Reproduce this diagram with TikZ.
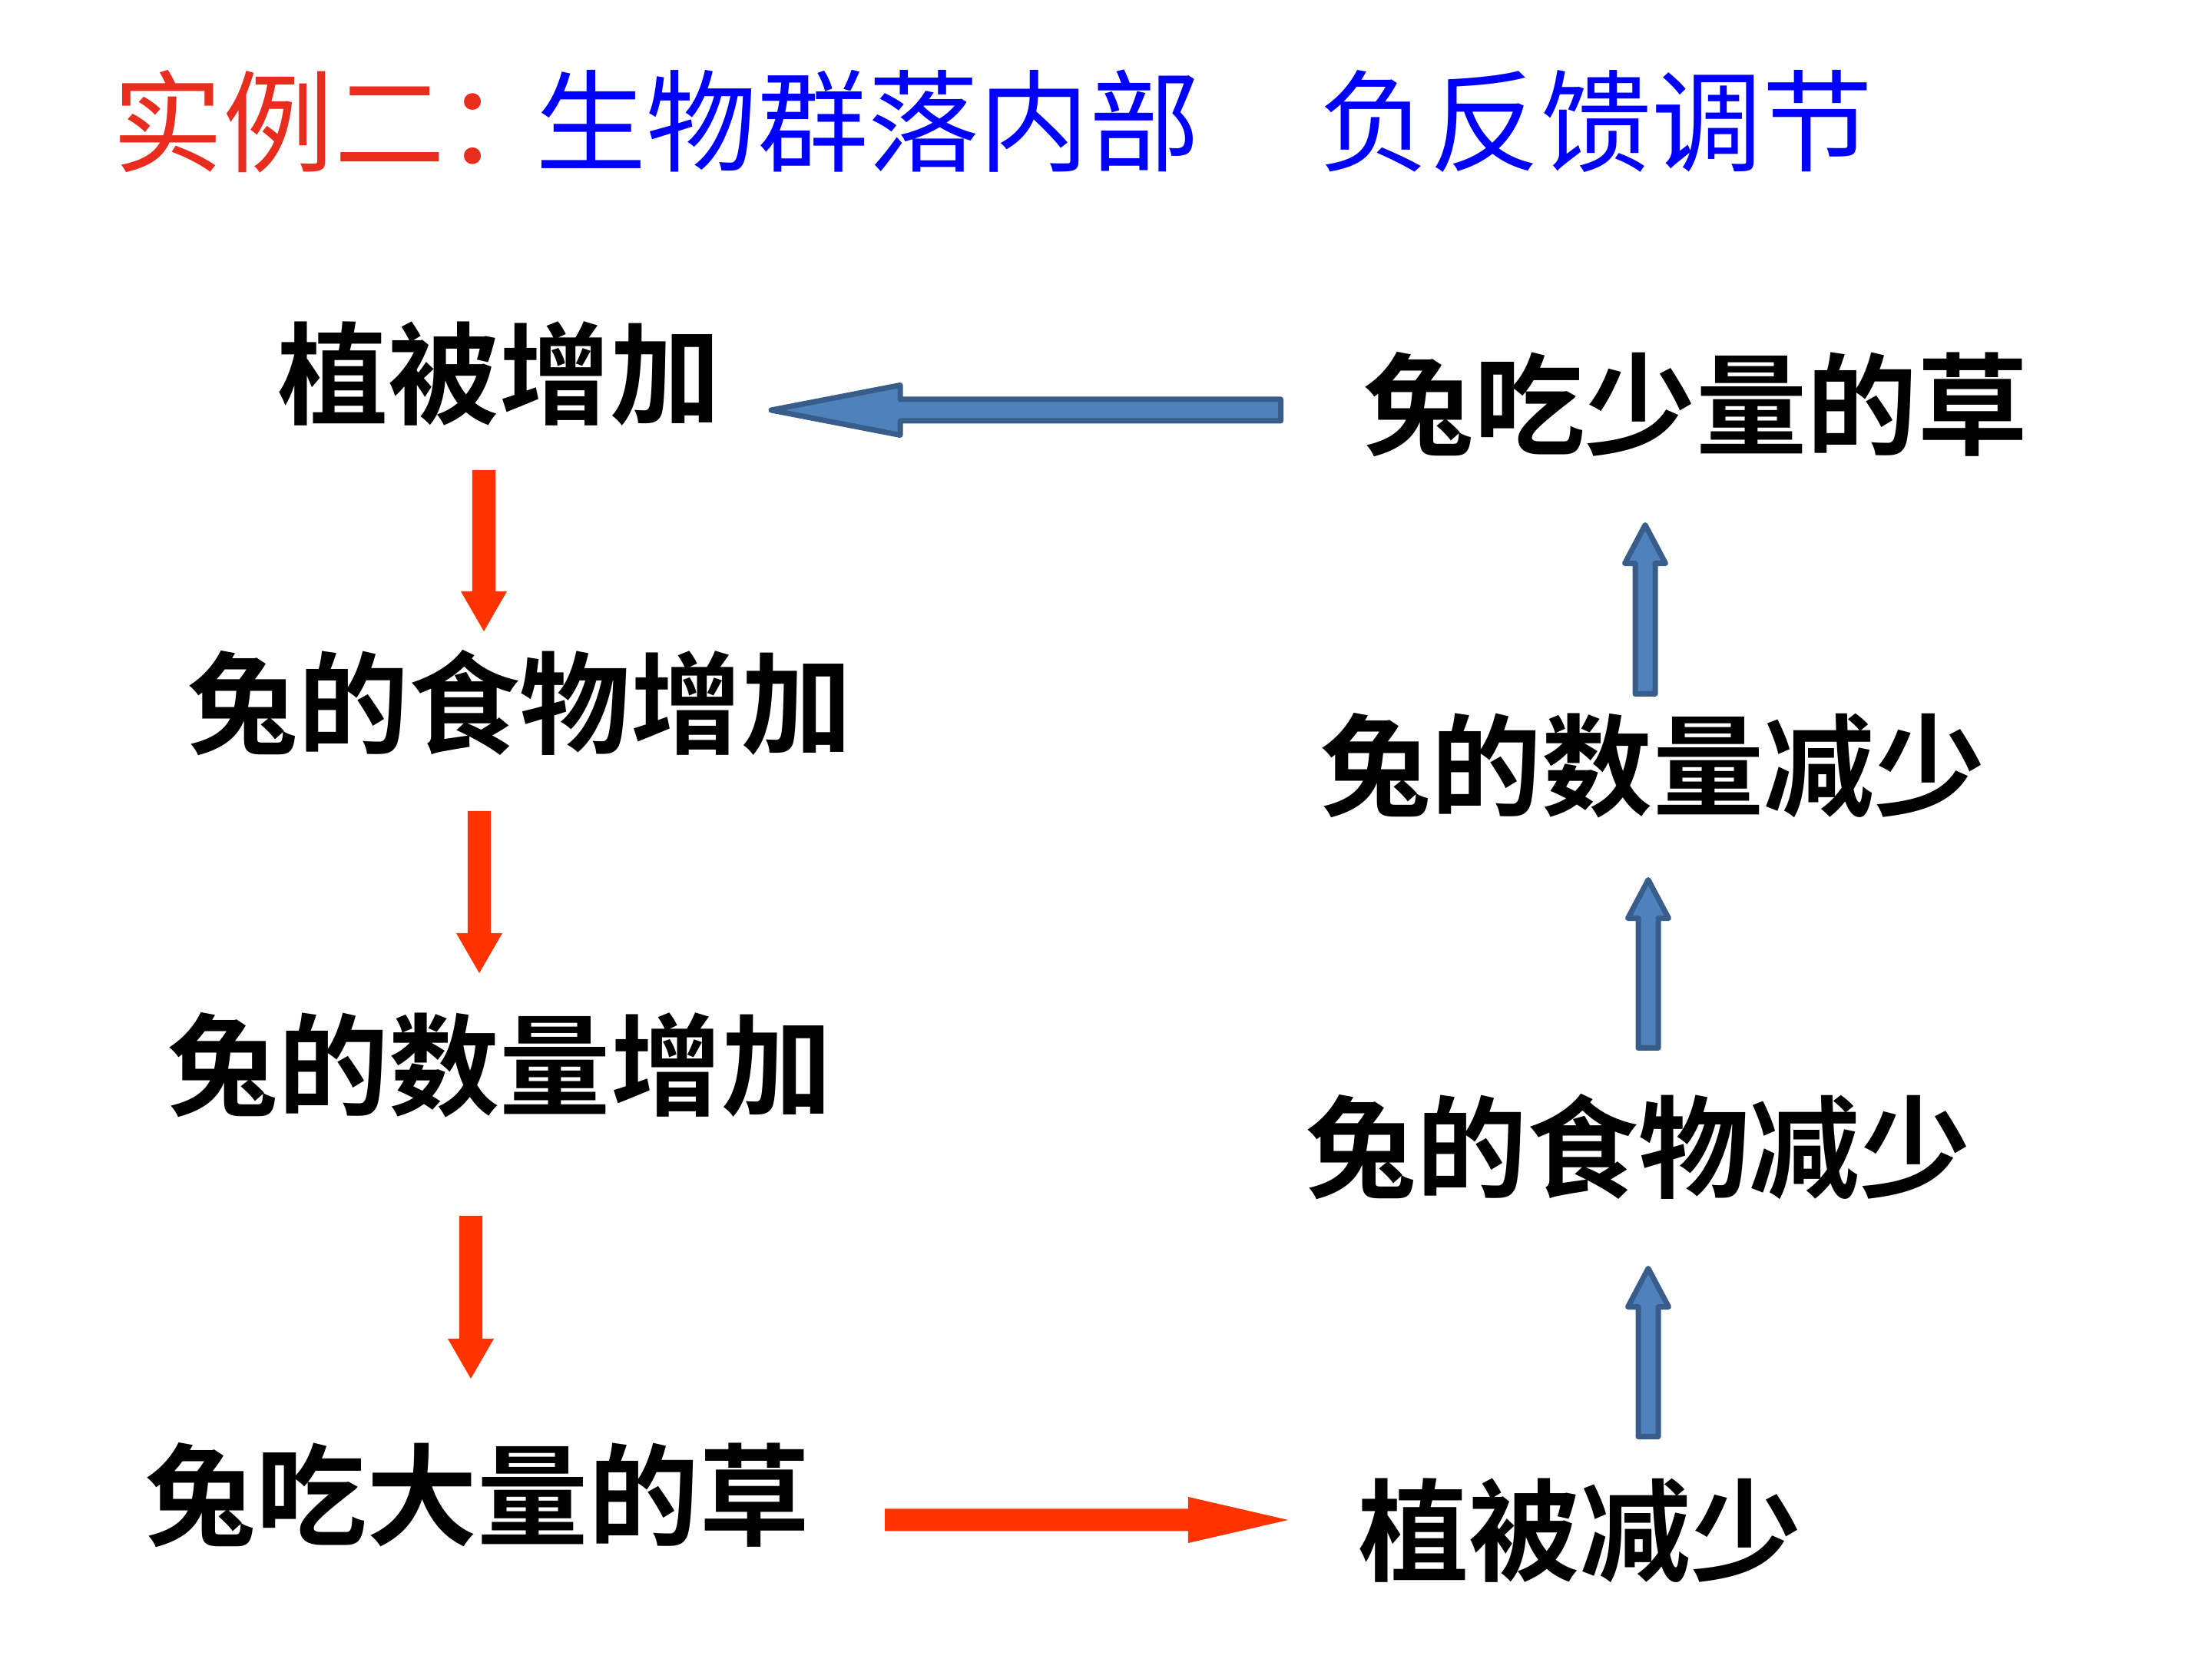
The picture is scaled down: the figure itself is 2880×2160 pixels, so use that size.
\documentclass[tikz,border=0pt]{standalone}
\usepackage{fontspec}
\usetikzlibrary{calc}
\newfontfamily\cjk[BoldFont={Noto Sans CJK SC Bold}]{Noto Sans CJK SC}
\definecolor{titlered}{HTML}{E82C1E}
\definecolor{titleblue}{HTML}{0000FF}
\definecolor{arrowred}{HTML}{FF3300}
\definecolor{arrowfill}{HTML}{4F81BD}
\definecolor{arrowline}{HTML}{385D8A}
\tikzset{
  txt/.style={font=\cjk\bfseries\fontsize{41pt}{41pt}\selectfont, inner sep=0pt, text=black},
  ttl/.style={font=\cjk\fontsize{41pt}{41pt}\selectfont, inner sep=0pt, anchor=west},
  redfat/.style={fill=arrowred},
  bluefat/.style={fill=arrowfill, draw=arrowline, line width=0.07cm, line join=round},
}
% #1 style, #2 from, #3 to (tip), #4 half shaft, #5 half head, #6 head length
\newcommand\fatarrow[6][]{%
  \path let \p1=($(#3)-(#2)$), \n1={veclen(\x1,\y1)}, \n2={atan2(\y1,\x1)} in
    \pgfextra{\xdef\falen{\n1}\xdef\faang{\n2}};
  \begin{scope}[shift={(#2)}, rotate=\faang]
    \path[#1] (0pt,-#4) -- (\falen-#6,-#4) -- (\falen-#6,-#5) -- (\falen,0pt)
      -- (\falen-#6,#5) -- (\falen-#6,#4) -- (0pt,#4) -- cycle;
  \end{scope}}
\begin{document}
\begin{tikzpicture}[x=0.01cm, y=0.01cm]
\fill[white] (0,0) rectangle (2880,2160);
\useasboundingbox (0,0) rectangle (2880,2160);

% title
\node[ttl, text=titlered] (t1) at (146,2002) {实例二：};
\node[ttl, text=titleblue] (t2) at (697,2002) {生物群落内部};
\node[ttl, text=titleblue] (t3) at (1717,2002) {负反馈调节};

% left column
\node[txt] (a1) at (650,1673) {植被增加};
\node[txt] (a2) at (677,1245) {兔的食物增加};
\node[txt] (a3) at (651,773) {兔的数量增加};
\node[txt] (a4) at (622,213) {兔吃大量的草};
% right column
\node[txt] (b1) at (2208,1633) {兔吃少量的草};
\node[txt] (b2) at (2152,1163) {兔的数量减少};
\node[txt] (b3) at (2133,667) {兔的食物减少};
\node[txt] (b4) at (2057,167) {植被减少};

% arrow end points
\coordinate (r1s) at (630,1548); \coordinate (r1e) at (630,1338);
\coordinate (r2s) at (624,1104); \coordinate (r2e) at (624,893);
\coordinate (r3s) at (613,577);  \coordinate (r3e) at (613,365);
\coordinate (r4s) at (1152,181); \coordinate (r4e) at (1677,181);
\coordinate (u1s) at (2146,289.5); \coordinate (u1e) at (2146,508.5);
\coordinate (u2s) at (2146,795.5); \coordinate (u2e) at (2146,1014.5);
\coordinate (u3s) at (2142,1256.5); \coordinate (u3e) at (2142,1476.5);
\coordinate (hs) at (1667.5,1626); \coordinate (he) at (1004,1626);

\fatarrow[redfat]{r1s}{r1e}{0.15cm}{0.30cm}{0.52cm}
\fatarrow[redfat]{r2s}{r2e}{0.15cm}{0.30cm}{0.52cm}
\fatarrow[redfat]{r3s}{r3e}{0.15cm}{0.30cm}{0.52cm}
\fatarrow[redfat]{r4s}{r4e}{0.145cm}{0.30cm}{1.30cm}
\fatarrow[bluefat]{u1s}{u1e}{0.13cm}{0.265cm}{0.50cm}
\fatarrow[bluefat]{u2s}{u2e}{0.13cm}{0.265cm}{0.50cm}
\fatarrow[bluefat]{u3s}{u3e}{0.13cm}{0.265cm}{0.50cm}
\fatarrow[bluefat]{hs}{he}{0.14cm}{0.325cm}{1.68cm}
\end{tikzpicture}
\end{document}
